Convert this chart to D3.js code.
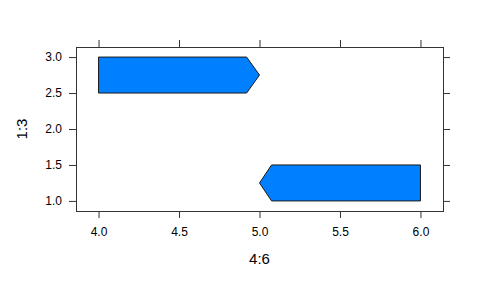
<!DOCTYPE html>
<html>
<head>
<meta charset="utf-8">
<script src="https://cdn.jsdelivr.net/npm/d3@7"></script>
<style>
  body { margin: 0; background: #fff; }
  text { font-family: "Liberation Sans", Arial, sans-serif; }
</style>
</head>
<body>
<div id="wrapper"></div>
<script>
// arrow polygons (x from 4:6, y from 1:3)
const arrowTopX = [4, 4.92, 5, 4.92, 4];
const arrowTopY = [3, 3, 2.75, 2.5, 2.5];
const arrowBottomX = [6, 5.075, 5, 5.075, 6];
const arrowBottomY = [1.5, 1.5, 1.25, 1, 1];
const xTicks = [4.0, 4.5, 5.0, 5.5, 6.0];
const yTicks = [1.0, 1.5, 2.0, 2.5, 3.0];
const xLabel = "4:6";
const yLabel = "1:3";

const polygons = [
  arrowTopX.map((x, i) => [x, arrowTopY[i]]),
  arrowBottomX.map((x, i) => [x, arrowBottomY[i]]),
];

const dimensions = {
  width: 480,
  height: 288,
  margins: { top: 47, right: 37, bottom: 77, left: 76 },
};
dimensions.boundedWidth =
  dimensions.width - dimensions.margins.left - dimensions.margins.right;
dimensions.boundedHeight =
  dimensions.height - dimensions.margins.top - dimensions.margins.bottom;

const wrapper = d3
  .select("#wrapper")
  .append("svg")
  .attr("width", dimensions.width)
  .attr("height", dimensions.height);

const bounds = wrapper
  .append("g")
  .attr("transform", `translate(${dimensions.margins.left}, ${dimensions.margins.top})`);

// lattice-style 7% padding
const xScale = d3.scaleLinear().domain([3.86, 6.14]).range([0, dimensions.boundedWidth]);
const yScale = d3.scaleLinear().domain([0.86, 3.14]).range([dimensions.boundedHeight, 0]);

const line = d3
  .line()
  .x((d) => xScale(d[0]))
  .y((d) => yScale(d[1]));

bounds
  .selectAll("path.arrow")
  .data(polygons)
  .enter()
  .append("path")
  .attr("class", "arrow")
  .attr("d", (d) => line(d) + "Z")
  .attr("fill", "#0080ff")
  .attr("stroke", "#1a1a1a")
  .attr("stroke-width", 1);

const fmt = d3.format(".1f");
const styleAxis = (g) => {
  g.select(".domain").remove();
  g.selectAll(".tick line").attr("stroke", "#333").attr("stroke-width", 1);
  g.selectAll(".tick text")
    .attr("fill", "#000")
    .style("font-size", "12px")
    .style("font-family", "Liberation Sans, Arial, sans-serif");
};

bounds
  .append("g")
  .attr("transform", `translate(0, ${dimensions.boundedHeight})`)
  .call(d3.axisBottom(xScale).tickValues(xTicks).tickFormat(fmt).tickSizeOuter(0).tickSize(7).tickPadding(9))
  .call(styleAxis);

bounds
  .append("g")
  .call(d3.axisTop(xScale).tickValues(xTicks).tickFormat("").tickSizeOuter(0).tickSize(7))
  .call(styleAxis);

bounds
  .append("g")
  .call(d3.axisLeft(yScale).tickValues(yTicks).tickFormat(fmt).tickSizeOuter(0).tickSize(7).tickPadding(7))
  .call(styleAxis);

bounds
  .append("g")
  .attr("transform", `translate(${dimensions.boundedWidth}, 0)`)
  .call(d3.axisRight(yScale).tickValues(yTicks).tickFormat("").tickSizeOuter(0).tickSize(7))
  .call(styleAxis);

bounds
  .append("rect")
  .attr("x", 0.5)
  .attr("y", 0.5)
  .attr("width", dimensions.boundedWidth)
  .attr("height", dimensions.boundedHeight)
  .attr("fill", "none")
  .attr("stroke", "#333");

wrapper
  .append("text")
  .attr("x", dimensions.margins.left + dimensions.boundedWidth / 2)
  .attr("y", 264)
  .attr("text-anchor", "middle")
  .style("font-size", "15px")
  .text(xLabel);

wrapper
  .append("text")
  .attr("transform", `translate(27, ${dimensions.margins.top + dimensions.boundedHeight / 2}) rotate(-90)`)
  .attr("text-anchor", "middle")
  .style("font-size", "15px")
  .text(yLabel);
</script>
</body>
</html>
